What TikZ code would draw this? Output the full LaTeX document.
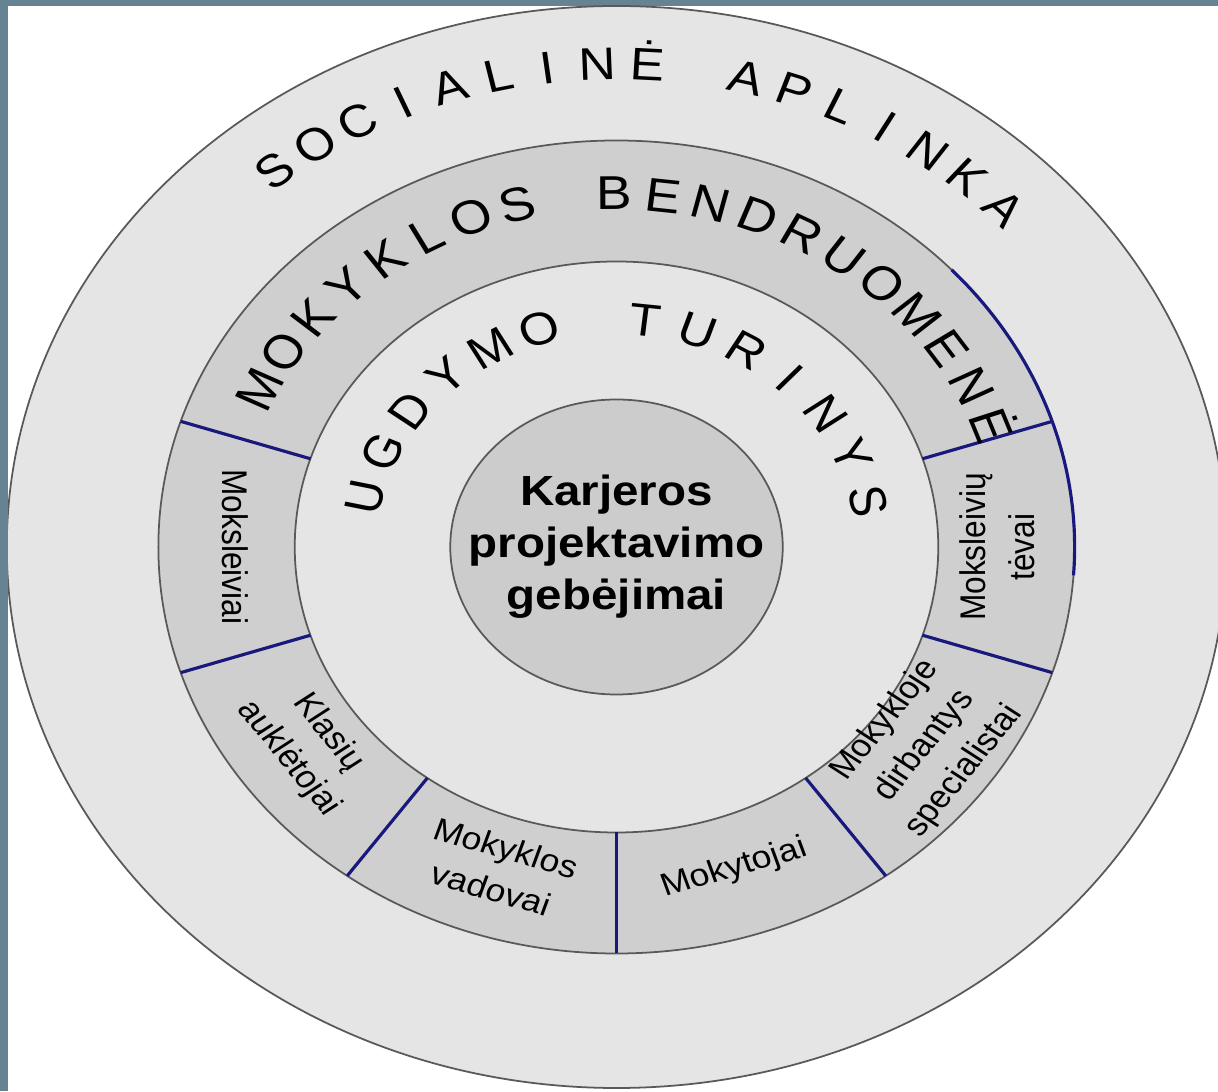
\documentclass[tikz,border=0pt]{standalone}
\usepackage{fontspec}
\setmainfont{Liberation Sans}
\definecolor{rama}{RGB}{101,131,146}
\definecolor{tamsi}{RGB}{25,25,125}
\begin{document}
\begin{tikzpicture}[
    ring/.style={draw=black!65, line width=0.5pt},
    skyr/.style={draw=tamsi, line width=0.9pt},
    raide/.style={inner sep=0pt, text height=0.72em, text depth=0pt},
    lbl/.style={align=center, inner sep=0pt, font=\fontsize{9}{12.3}\selectfont}]
  \useasboundingbox (0,0) rectangle (12.18,10.91);
  \fill[rama] (0,0) rectangle (12.18,10.91);
  \fill[white] (0.08,0) rectangle (12.18,10.85);
  \clip (0.08,0) rectangle (12.18,10.85);
  \begin{scope}[shift={(6.165,5.44)}, xscale=1.127, transform shape]
    %aplinka
    \draw[ring, fill=black!10] (0,0) circle (5.41);
    %bendruomene
    \draw[ring, fill=black!19] (0,0) circle (4.065);
    %turinys
    \draw[ring, fill=black!10] (0,0) circle (2.855);
    %centras
    \draw[ring, fill=black!20] (0,0) circle (1.475);
    \node[align=center, font=\bfseries\fontsize{12}{14.8}\selectfont] (centras) at (0,0)
      {Karjeros\\projektavimo\\gebėjimai};

    %skyrikliai
    \foreach \a in {18,162,198,234,270,306,342}
      \draw[skyr] (\a:2.855) -- (\a:4.065);
    \draw[skyr] (43:4.065) arc[start angle=43, end angle=-4, radius=4.065];

    %grupes
    \foreach \a/\t [count=\i] in {0/{Moksleivių\\tėvai}, 180/Moksleiviai,
        216/{Klasių\\auklėtojai}, 252/{Mokyklos\\vadovai}, 288/Mokytojai,
        324/{Mokykloje\\dirbantys\\specialistai}}
      \node[lbl, rotate=\a+90] (grupe\i) at (\a:3.38) {\t};

    %uzrasai ant lanku
    \foreach \ch/\k in {S/0,O/1,C/2,I/3,A/4,L/5,I/6,N/7,Ė/8,A/10,P/11,L/12,I/13,N/14,K/15,A/16}
      \node[raide, font=\fontsize{13}{15}\selectfont, rotate={38.9-5.27*\k}]
        (soc\k) at ({128.9-5.27*\k}:4.8) {\ch};
    \foreach \ch/\k in {M/0,O/1,K/2,Y/3,K/4,L/5,O/6,S/7,B/9,E/10,N/11,D/12,R/13,U/14,O/15,M/16,E/17,N/18,Ė/19}
      \node[raide, font=\fontsize{13.5}{15}\selectfont, rotate={63.6-7.03*\k}]
        (mok\k) at ({153.6-7.03*\k}:3.5) {\ch};
    \foreach \ch/\k in {U/0,G/1,D/2,Y/3,M/4,O/5,T/7,U/8,R/9,I/10,N/11,Y/12,S/13}
      \node[raide, font=\fontsize{13}{15}\selectfont, rotate={77.4-11.98*\k}]
        (ugd\k) at ({167.4-11.98*\k}:2.25) {\ch};
  \end{scope}
\end{tikzpicture}
\end{document}
